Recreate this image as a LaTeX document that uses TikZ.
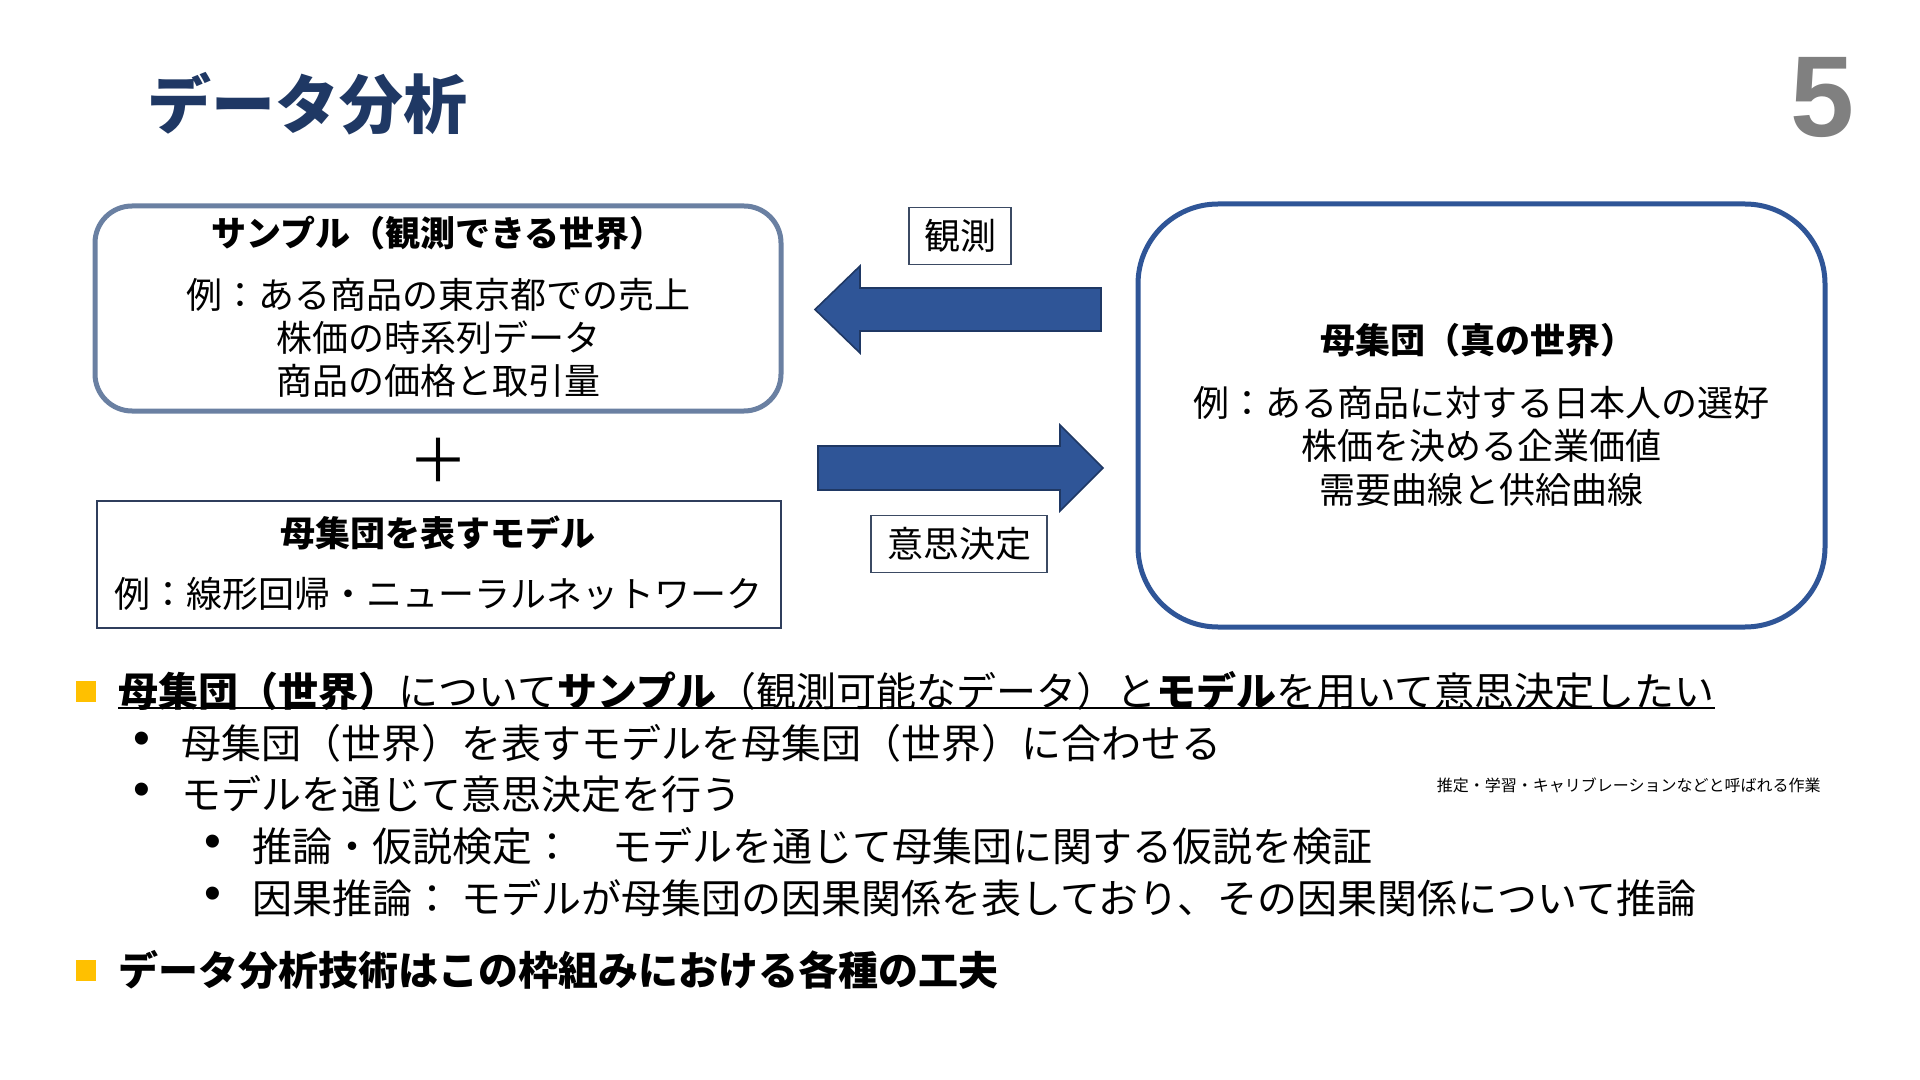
\documentclass[tikz,border=0pt]{standalone}
\usepackage{fontspec}
\setmainfont{Noto Sans CJK JP}
\newfontfamily\numfont{Liberation Sans}
\definecolor{navy}{RGB}{31,56,100}
\definecolor{numgray}{RGB}{128,128,128}
\definecolor{sampleedge}{RGB}{106,128,162}
\definecolor{modeledge}{RGB}{47,62,92}
\definecolor{popedge}{RGB}{47,85,151}
\definecolor{arrowfill}{RGB}{47,85,151}
\definecolor{arrowedge}{RGB}{31,56,100}
\definecolor{labeledge}{RGB}{59,74,99}
\definecolor{marker}{RGB}{255,192,0}
\tikzset{
  samplebox/.style={draw=sampleedge, line width=2.5pt, rounded corners=18.5pt, minimum width=343pt, minimum height=102.5pt, inner sep=0pt},
  modelbox/.style={draw=modeledge, line width=1pt, minimum width=342pt, minimum height=63.5pt, inner sep=0pt},
  popbox/.style={draw=popedge, line width=2.5pt, rounded corners=40pt, minimum width=343.5pt, minimum height=211.5pt, inner sep=0pt},
  labelbox/.style={draw=labeledge, line width=0.8pt, minimum height=28.5pt, inner sep=0pt, font=\fontsize{18pt}{22pt}\selectfont, text height=15.84pt, text depth=2.16pt},
  bt/.style={font=\fontsize{17.5pt}{21pt}\selectfont\bfseries, inner sep=0pt, text height=15.4pt, text depth=2.1pt},
  bb/.style={font=\fontsize{18pt}{22pt}\selectfont, inner sep=0pt, text height=15.84pt, text depth=2.16pt},
  lt/.style={font=\fontsize{20pt}{24pt}\selectfont, anchor=west, inner sep=0pt, text height=17.6pt, text depth=2.4pt},
  dot/.style={font=\numfont\fontsize{24pt}{26pt}\selectfont, inner sep=0pt},
  sq/.style={fill=marker, minimum width=10pt, minimum height=10.5pt, inner sep=0pt},
  blockarrow/.style={fill=arrowfill, draw=arrowedge, line width=0.8pt, line join=miter},
}
\begin{document}
\begin{tikzpicture}[x=0.5pt,y=-0.5pt]
\useasboundingbox (0,0) rectangle (1920,1080);
\fill[white] (0,0) rectangle (1920,1080);

% title and page number
\node[anchor=west, inner sep=0pt, text=navy, font=\fontsize{32pt}{36pt}\selectfont\bfseries, text height=28.2pt, text depth=3.8pt] (title) at (147,104) {データ分析};
\node[anchor=base, inner sep=0pt, text=numgray, font=\numfont\bfseries\fontsize{57.5pt}{60pt}\selectfont] (pageno) at (1822,137) {5};

% sample box
\node[samplebox] (sample) at (438,308.5) {};
\node[bt] (sampletitle) at (438,233) {サンプル（観測できる世界）};
\node[bb] (s1) at (438,295) {例：ある商品の東京都での売上};
\node[bb] (s2) at (438,338) {株価の時系列データ};
\node[bb] (s3) at (438,381) {商品の価格と取引量};

% plus
\node[inner sep=0pt, font=\fontsize{30pt}{30pt}\selectfont] (plus) at (438,460) {＋};

% model box
\node[modelbox] (model) at (439,564.5) {};
\node[bt] (modeltitle) at (438,533) {母集団を表すモデル};
\node[bb] (m1) at (438,594) {例：線形回帰・ニューラルネットワーク};

% population box
\node[popbox] (pop) at (1481.5,415.5) {};
\node[bt] (poptitle) at (1478,340) {母集団（真の世界）};
\node[bb] (p1) at (1481,403) {例：ある商品に対する日本人の選好};
\node[bb] (p2) at (1481,446) {株価を決める企業価値};
\node[bb] (p3) at (1481,490) {需要曲線と供給曲線};

% arrows
\draw[blockarrow] (815,309.5) -- (860,266) -- (860,288) -- (1101,288) -- (1101,331) -- (860,331) -- (860,353) -- cycle;
\draw[blockarrow] (1103,468) -- (1060,425) -- (1060,446) -- (818,446) -- (818,490) -- (1060,490) -- (1060,511) -- cycle;

% arrow labels
\node[labelbox, minimum width=51pt] (obs) at (960,236) {観測};
\node[labelbox, minimum width=88pt] (dec) at (959,544) {意思決定};

% list
\node[sq] (sq1) at (86,691.5) {};
\node[lt] (l1) at (118,691) {{\bfseries 母集団（世界）}について{\bfseries サンプル}（観測可能なデータ）と{\bfseries モデル}を用いて意思決定したい};
\coordinate (ul) at (0,708);
\draw[line width=1pt] (l1.west |- ul) -- (l1.east |- ul);

\node[dot] (b2) at (142,743) {•};
\node[lt] (l2) at (181,743) {母集団（世界）を表すモデルを母集団（世界）に合わせる};
\node[dot] (b3) at (142,794) {•};
\node[lt] (l3) at (181,794) {モデルを通じて意思決定を行う};
\node[anchor=east, inner sep=0pt, font=\fontsize{8pt}{10pt}\selectfont] (note) at (1821,785) {推定・学習・キャリブレーションなどと呼ばれる作業};
\node[dot] (b4) at (213,846) {•};
\node[lt] (l4) at (252,846) {推論・仮説検定：　モデルを通じて母集団に関する仮説を検証};
\node[dot] (b5) at (213,898) {•};
\node[lt] (l5) at (252,898) {因果推論： モデルが母集団の因果関係を表しており、その因果関係について推論};

\node[sq] (sq6) at (86,970.5) {};
\node[lt, font=\fontsize{20pt}{24pt}\selectfont\bfseries] (l6) at (118,970) {データ分析技術はこの枠組みにおける各種の工夫};
\end{tikzpicture}
\end{document}
